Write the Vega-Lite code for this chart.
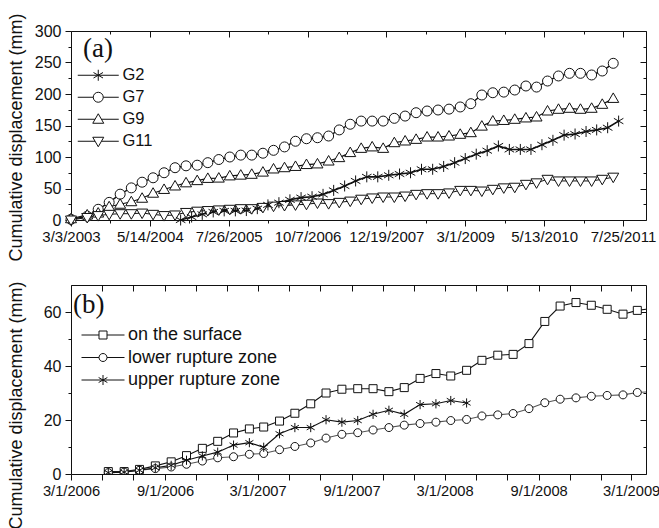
{
  "$schema": "https://vega.github.io/schema/vega-lite/v6.json",
  "padding": {"left": 6, "top": 12, "right": 0, "bottom": 0},
  "config": {
    "font": "Liberation Sans",
    "view": {"stroke": "#111", "strokeWidth": 1},
    "axis": {"grid": false, "domain": false, "tickColor": "#111", "tickWidth": 1, "labelColor": "#111", "labelFont": "Liberation Sans", "titleFont": "Liberation Sans", "titleColor": "#111", "titleFontWeight": "normal", "labelFlush": false, "labelOverlap": false},
    "legend": {"titleFont": "Liberation Serif", "titleFontSize": 27, "titleFontWeight": "normal", "titleColor": "#111", "labelFont": "Liberation Sans", "labelColor": "#111", "symbolSize": 100, "symbolStrokeWidth": 1, "symbolStrokeColor": "#111", "symbolFillColor": "white", "symbolOpacity": 1, "padding": 0}
  },
  "spacing": 65,
  "bounds": "flush",
  "vconcat": [
    {
      "width": 575,
      "height": 189,
      "data": {"name": "a"},
      "resolve": {"axis": {"x": "independent", "y": "independent"}, "scale": {"shape": "independent"}},
      "layer": [
        {
          "mark": {"type": "line", "stroke": "#111"},
          "encoding": {
            "x": {"field": "d", "type": "temporal",
              "scale": {"type": "utc", "domain": [{"year": 2003, "month": 3, "date": 3, "utc": true}, {"year": 2011, "month": 11, "date": 30, "utc": true}]},
              "axis": {"orient": "bottom", "title": null, "format": "%-m/%-d/%Y", "labelFontSize": 15, "tickSize": 6, "labelPadding": 3,
                "values": [{"year": 2003, "month": 3, "date": 3, "utc": true}, {"year": 2004, "month": 5, "date": 14, "utc": true}, {"year": 2005, "month": 7, "date": 26, "utc": true}, {"year": 2006, "month": 10, "date": 7, "utc": true}, {"year": 2007, "month": 12, "date": 19, "utc": true}, {"year": 2009, "month": 3, "date": 1, "utc": true}, {"year": 2010, "month": 5, "date": 13, "utc": true}, {"year": 2011, "month": 7, "date": 25, "utc": true}]}},
            "y": {"field": "v", "type": "quantitative", "scale": {"domain": [0, 300], "nice": false},
              "axis": {"orient": "left", "values": [0, 50, 100, 150, 200, 250, 300], "labelFontSize": 16, "tickSize": 6, "labelPadding": 4,
                "title": "Cumulative displacement (mm)", "titleFontSize": 18, "titleX": -55, "titleY": 106, "titleBaseline": "middle", "titleAlign": "center", "titleAngle": -90}},
            "detail": {"field": "s", "type": "nominal"},
            "strokeWidth": {"field": "s", "type": "nominal", "legend": null, "scale": {"domain": ["G2", "G7", "G9", "G11"], "range": [1.6, 1, 1, 1.1]}}
          }
        },
        {
          "mark": {"type": "point", "filled": true, "fill": "white", "stroke": "#111", "strokeWidth": 1, "size": 100, "opacity": 1},
          "encoding": {
            "x": {"field": "d", "type": "temporal",
              "axis": {"orient": "bottom", "title": null, "labels": false, "tickSize": 3,
                "values": [{"year": 2003, "month": 10, "date": 8, "utc": true}, {"year": 2004, "month": 12, "date": 19, "utc": true}, {"year": 2006, "month": 3, "date": 2, "utc": true}, {"year": 2007, "month": 5, "date": 14, "utc": true}, {"year": 2008, "month": 7, "date": 25, "utc": true}, {"year": 2009, "month": 10, "date": 6, "utc": true}, {"year": 2010, "month": 12, "date": 18, "utc": true}]}},
            "y": {"field": "v", "type": "quantitative",
              "axis": {"orient": "left", "title": null, "labels": false, "tickSize": 3, "values": [25, 75, 125, 175, 225, 275]}},
            "shape": {"field": "s", "type": "nominal", "legend": null,
              "scale": {"domain": ["G2", "G7", "G9", "G11"], "range": ["M0,-1.1V1.1M-0.95,-0.55L0.95,0.55M-0.95,0.55L0.95,-0.55", "M1,0A1,1,0,1,1,-1,0A1,1,0,1,1,1,0Z", "M0,-1.1L1.1,0.8L-1.1,0.8Z", "M0,1.1L1.1,-0.8L-1.1,-0.8Z"]}}
          }
        },
        {
          "mark": {"type": "point", "filled": false, "stroke": "#111", "strokeWidth": 1, "opacity": 0},
          "encoding": {
            "x": {"field": "d", "type": "temporal",
              "axis": {"orient": "top", "title": null, "labels": false, "tickSize": 6, "offset": -6,
                "values": [{"year": 2003, "month": 3, "date": 3, "utc": true}, {"year": 2004, "month": 5, "date": 14, "utc": true}, {"year": 2005, "month": 7, "date": 26, "utc": true}, {"year": 2006, "month": 10, "date": 7, "utc": true}, {"year": 2007, "month": 12, "date": 19, "utc": true}, {"year": 2009, "month": 3, "date": 1, "utc": true}, {"year": 2010, "month": 5, "date": 13, "utc": true}, {"year": 2011, "month": 7, "date": 25, "utc": true}]}},
            "y": {"field": "v", "type": "quantitative",
              "axis": {"orient": "right", "title": null, "labels": false, "tickSize": 6, "offset": -6, "values": [0, 50, 100, 150, 200, 250, 300]}},
            "shape": {"field": "s", "type": "nominal",
              "scale": {"domain": ["G2", "G7", "G9", "G11"], "range": ["M-4.1,0H4.1M0,-1.1V1.1M-0.95,-0.55L0.95,0.55M-0.95,0.55L0.95,-0.55", "M-4.1,0H-1M1,0H4.1M1,0A1,1,0,1,1,-1,0A1,1,0,1,1,1,0Z", "M-4.1,0H-0.64M0.64,0H4.1M0,-1.1L1.1,0.8L-1.1,0.8Z", "M-4.1,0H-0.64M0.64,0H4.1M0,1.1L1.1,-0.8L-1.1,-0.8Z"]},
              "legend": {"title": "(a)", "orient": "none", "legendX": 12, "legendY": 5, "titlePadding": 4, "labelFontSize": 16.5, "rowPadding": 5, "symbolOffset": 7, "labelOffset": 16,
                "encode": {"symbols": {"stroke": {"value": "#111"}, "fill": {"value": "white"}, "opacity": {"value": 1}, "strokeWidth": {"value": 1}}}}}
          }
        },
        {
          "mark": {"type": "point", "opacity": 0},
          "encoding": {
            "x": {"field": "d", "type": "temporal",
              "axis": {"orient": "top", "title": null, "labels": false, "tickSize": 3, "offset": -3,
                "values": [{"year": 2003, "month": 10, "date": 8, "utc": true}, {"year": 2004, "month": 12, "date": 19, "utc": true}, {"year": 2006, "month": 3, "date": 2, "utc": true}, {"year": 2007, "month": 5, "date": 14, "utc": true}, {"year": 2008, "month": 7, "date": 25, "utc": true}, {"year": 2009, "month": 10, "date": 6, "utc": true}, {"year": 2010, "month": 12, "date": 18, "utc": true}]}},
            "y": {"field": "v", "type": "quantitative",
              "axis": {"orient": "right", "title": null, "labels": false, "tickSize": 3, "offset": -3, "values": [25, 75, 125, 175, 225, 275]}}
          }
        }
      ]
    },
    {
      "width": 575,
      "height": 189,
      "data": {"name": "b"},
      "resolve": {"axis": {"x": "independent", "y": "independent"}, "scale": {"shape": "independent"}},
      "layer": [
        {
          "mark": {"type": "line", "strokeWidth": 1.1, "clip": true},
          "encoding": {
            "x": {"field": "d", "type": "temporal",
              "scale": {"type": "utc", "domain": [{"year": 2006, "month": 3, "date": 1, "utc": true}, {"year": 2009, "month": 3, "date": 30, "utc": true}]},
              "axis": {"orient": "bottom", "title": null, "format": "%-m/%-d/%Y", "labelFontSize": 14.7, "tickSize": 6, "labelPadding": 3,
                "values": [{"year": 2006, "month": 3, "date": 1, "utc": true}, {"year": 2006, "month": 9, "date": 1, "utc": true}, {"year": 2007, "month": 3, "date": 1, "utc": true}, {"year": 2007, "month": 9, "date": 1, "utc": true}, {"year": 2008, "month": 3, "date": 1, "utc": true}, {"year": 2008, "month": 9, "date": 1, "utc": true}, {"year": 2009, "month": 3, "date": 1, "utc": true}]}},
            "y": {"field": "v", "type": "quantitative", "scale": {"domain": [0, 70], "nice": false},
              "axis": {"orient": "left", "values": [0, 20, 40, 60], "labelFontSize": 16, "tickSize": 6, "labelPadding": 4,
                "title": "Cumulative displacement (mm)", "titleFontSize": 18, "titleX": -55, "titleY": 120, "titleBaseline": "middle", "titleAlign": "center", "titleAngle": -90}},
            "color": {"field": "s", "type": "nominal", "legend": null,
              "scale": {"domain": ["on the surface", "lower rupture zone", "upper rupture zone"], "range": ["#111", "#555", "#111"]}}
          }
        },
        {
          "mark": {"type": "point", "filled": true, "fill": "white", "stroke": "#111", "strokeWidth": 1, "size": 64, "opacity": 1, "clip": true},
          "encoding": {
            "x": {"field": "d", "type": "temporal",
              "axis": {"orient": "bottom", "title": null, "labels": false, "tickSize": 6,
                "values": [{"year": 2006, "month": 5, "date": 1, "utc": true}, {"year": 2006, "month": 7, "date": 1, "utc": true}, {"year": 2006, "month": 11, "date": 1, "utc": true}, {"year": 2007, "month": 1, "date": 1, "utc": true}, {"year": 2007, "month": 5, "date": 1, "utc": true}, {"year": 2007, "month": 7, "date": 1, "utc": true}, {"year": 2007, "month": 11, "date": 1, "utc": true}, {"year": 2008, "month": 1, "date": 1, "utc": true}, {"year": 2008, "month": 5, "date": 1, "utc": true}, {"year": 2008, "month": 7, "date": 1, "utc": true}, {"year": 2008, "month": 11, "date": 1, "utc": true}, {"year": 2009, "month": 1, "date": 1, "utc": true}]}},
            "y": {"field": "v", "type": "quantitative",
              "axis": {"orient": "left", "title": null, "labels": false, "tickSize": 3, "values": [10, 30, 50]}},
            "shape": {"field": "s", "type": "nominal", "legend": null,
              "scale": {"domain": ["on the surface", "lower rupture zone", "upper rupture zone"], "range": ["M-1,-1H1V1H-1Z", "M1,0A1,1,0,1,1,-1,0A1,1,0,1,1,1,0Z", "M0,-1.15V1.15M-1,-0.58L1,0.58M-1,0.58L1,-0.58"]}}
          }
        },
        {
          "mark": {"type": "point", "filled": false, "stroke": "#111", "strokeWidth": 1, "opacity": 0, "clip": true},
          "encoding": {
            "x": {"field": "d", "type": "temporal",
              "axis": {"orient": "top", "title": null, "labels": false, "tickSize": 6, "offset": -6,
                "values": [{"year": 2006, "month": 3, "date": 1, "utc": true}, {"year": 2006, "month": 9, "date": 1, "utc": true}, {"year": 2007, "month": 3, "date": 1, "utc": true}, {"year": 2007, "month": 9, "date": 1, "utc": true}, {"year": 2008, "month": 3, "date": 1, "utc": true}, {"year": 2008, "month": 9, "date": 1, "utc": true}, {"year": 2009, "month": 3, "date": 1, "utc": true}]}},
            "y": {"field": "v", "type": "quantitative",
              "axis": {"orient": "right", "title": null, "labels": false, "tickSize": 6, "offset": -6, "values": [0, 20, 40, 60]}},
            "shape": {"field": "s", "type": "nominal",
              "scale": {"domain": ["on the surface", "lower rupture zone", "upper rupture zone"], "range": ["M-4.3,0H-0.8M0.8,0H4.3M-0.8,-0.8H0.8V0.8H-0.8Z", "M-4.3,0H-0.8M0.8,0H4.3M0.8,0A0.8,0.8,0,1,1,-0.8,0A0.8,0.8,0,1,1,0.8,0Z", "M-4.3,0H4.3M0,-1V1M-0.87,-0.5L0.87,0.5M-0.87,0.5L0.87,-0.5"]},
              "legend": {"title": "(b)", "orient": "none", "legendX": 2, "legendY": 7, "titlePadding": 7, "labelFontSize": 18, "rowPadding": 4.5, "symbolOffset": 21, "labelOffset": 16,
                "encode": {"symbols": {"stroke": {"condition": {"test": "datum.value === 'lower rupture zone'", "value": "#555"}, "value": "#111"}, "fill": {"value": "white"}, "opacity": {"value": 1}, "strokeWidth": {"value": 1}}}}}
          }
        },
        {
          "mark": {"type": "point", "opacity": 0, "clip": true},
          "encoding": {
            "x": {"field": "d", "type": "temporal",
              "axis": {"orient": "top", "title": null, "labels": false, "tickSize": 6, "offset": -6,
                "values": [{"year": 2006, "month": 5, "date": 1, "utc": true}, {"year": 2006, "month": 7, "date": 1, "utc": true}, {"year": 2006, "month": 11, "date": 1, "utc": true}, {"year": 2007, "month": 1, "date": 1, "utc": true}, {"year": 2007, "month": 5, "date": 1, "utc": true}, {"year": 2007, "month": 7, "date": 1, "utc": true}, {"year": 2007, "month": 11, "date": 1, "utc": true}, {"year": 2008, "month": 1, "date": 1, "utc": true}, {"year": 2008, "month": 5, "date": 1, "utc": true}, {"year": 2008, "month": 7, "date": 1, "utc": true}, {"year": 2008, "month": 11, "date": 1, "utc": true}, {"year": 2009, "month": 1, "date": 1, "utc": true}]}},
            "y": {"field": "v", "type": "quantitative",
              "axis": {"orient": "right", "title": null, "labels": false, "tickSize": 3, "offset": -3, "values": [10, 30, 50]}}
          }
        }
      ]
    }
  ],
  "datasets": {
    "a": [
      {"s": "G7", "d": "2003-03-03", "v": 1}, {"s": "G7", "d": "2003-06-01", "v": 6}, {"s": "G7", "d": "2003-08-01", "v": 17}, {"s": "G7", "d": "2003-10-01", "v": 28}, {"s": "G7", "d": "2003-12-01", "v": 41}, {"s": "G7", "d": "2004-02-01", "v": 51}, {"s": "G7", "d": "2004-04-01", "v": 60}, {"s": "G7", "d": "2004-06-01", "v": 67}, {"s": "G7", "d": "2004-08-01", "v": 75}, {"s": "G7", "d": "2004-10-01", "v": 83},
      {"s": "G7", "d": "2004-12-01", "v": 86}, {"s": "G7", "d": "2005-02-01", "v": 87}, {"s": "G7", "d": "2005-04-01", "v": 91}, {"s": "G7", "d": "2005-06-01", "v": 96}, {"s": "G7", "d": "2005-08-01", "v": 100}, {"s": "G7", "d": "2005-10-01", "v": 103}, {"s": "G7", "d": "2005-12-01", "v": 103}, {"s": "G7", "d": "2006-02-01", "v": 106}, {"s": "G7", "d": "2006-04-01", "v": 110.6}, {"s": "G7", "d": "2006-06-01", "v": 116},
      {"s": "G7", "d": "2006-08-01", "v": 125}, {"s": "G7", "d": "2006-10-01", "v": 129}, {"s": "G7", "d": "2006-12-01", "v": 130.6}, {"s": "G7", "d": "2007-02-01", "v": 133.3}, {"s": "G7", "d": "2007-04-01", "v": 143}, {"s": "G7", "d": "2007-06-01", "v": 152}, {"s": "G7", "d": "2007-08-01", "v": 157}, {"s": "G7", "d": "2007-10-01", "v": 157}, {"s": "G7", "d": "2007-12-01", "v": 157}, {"s": "G7", "d": "2008-02-01", "v": 161.4},
      {"s": "G7", "d": "2008-04-01", "v": 165}, {"s": "G7", "d": "2008-06-01", "v": 170.3}, {"s": "G7", "d": "2008-08-01", "v": 173}, {"s": "G7", "d": "2008-10-01", "v": 174.6}, {"s": "G7", "d": "2008-12-01", "v": 176}, {"s": "G7", "d": "2009-02-01", "v": 179.4}, {"s": "G7", "d": "2009-04-01", "v": 184.6}, {"s": "G7", "d": "2009-06-01", "v": 198.4}, {"s": "G7", "d": "2009-08-01", "v": 202}, {"s": "G7", "d": "2009-10-01", "v": 203},
      {"s": "G7", "d": "2009-12-01", "v": 206.3}, {"s": "G7", "d": "2010-02-01", "v": 212.7}, {"s": "G7", "d": "2010-04-01", "v": 211}, {"s": "G7", "d": "2010-06-01", "v": 220.6}, {"s": "G7", "d": "2010-08-01", "v": 228.6}, {"s": "G7", "d": "2010-10-01", "v": 232.8}, {"s": "G7", "d": "2010-12-01", "v": 232.8}, {"s": "G7", "d": "2011-02-01", "v": 230.2}, {"s": "G7", "d": "2011-04-01", "v": 236.5}, {"s": "G7", "d": "2011-06-01", "v": 248.7},
      {"s": "G9", "d": "2003-03-03", "v": 2}, {"s": "G9", "d": "2003-06-01", "v": 8}, {"s": "G9", "d": "2003-08-01", "v": 11}, {"s": "G9", "d": "2003-10-01", "v": 21}, {"s": "G9", "d": "2003-12-01", "v": 25}, {"s": "G9", "d": "2004-02-01", "v": 29}, {"s": "G9", "d": "2004-04-01", "v": 34.5}, {"s": "G9", "d": "2004-06-01", "v": 42.5}, {"s": "G9", "d": "2004-08-01", "v": 48.5}, {"s": "G9", "d": "2004-10-01", "v": 54},
      {"s": "G9", "d": "2004-12-01", "v": 59}, {"s": "G9", "d": "2005-02-01", "v": 62.5}, {"s": "G9", "d": "2005-04-01", "v": 66}, {"s": "G9", "d": "2005-06-01", "v": 66.5}, {"s": "G9", "d": "2005-08-01", "v": 70}, {"s": "G9", "d": "2005-10-01", "v": 71.2}, {"s": "G9", "d": "2005-12-01", "v": 72.5}, {"s": "G9", "d": "2006-02-01", "v": 76}, {"s": "G9", "d": "2006-04-01", "v": 81}, {"s": "G9", "d": "2006-06-01", "v": 83},
      {"s": "G9", "d": "2006-08-01", "v": 85}, {"s": "G9", "d": "2006-10-01", "v": 88}, {"s": "G9", "d": "2006-12-01", "v": 89}, {"s": "G9", "d": "2007-02-01", "v": 93.6}, {"s": "G9", "d": "2007-04-01", "v": 99}, {"s": "G9", "d": "2007-06-01", "v": 107}, {"s": "G9", "d": "2007-08-01", "v": 113.7}, {"s": "G9", "d": "2007-10-01", "v": 116}, {"s": "G9", "d": "2007-12-01", "v": 113.7}, {"s": "G9", "d": "2008-02-01", "v": 122.7},
      {"s": "G9", "d": "2008-04-01", "v": 125.4}, {"s": "G9", "d": "2008-06-01", "v": 128}, {"s": "G9", "d": "2008-08-01", "v": 131.7}, {"s": "G9", "d": "2008-10-01", "v": 131.7}, {"s": "G9", "d": "2008-12-01", "v": 133.3}, {"s": "G9", "d": "2009-02-01", "v": 136}, {"s": "G9", "d": "2009-04-01", "v": 138.6}, {"s": "G9", "d": "2009-06-01", "v": 149}, {"s": "G9", "d": "2009-08-01", "v": 157}, {"s": "G9", "d": "2009-10-01", "v": 158},
      {"s": "G9", "d": "2009-12-01", "v": 159.8}, {"s": "G9", "d": "2010-02-01", "v": 162}, {"s": "G9", "d": "2010-04-01", "v": 163.5}, {"s": "G9", "d": "2010-06-01", "v": 173}, {"s": "G9", "d": "2010-08-01", "v": 175.7}, {"s": "G9", "d": "2010-10-01", "v": 177.3}, {"s": "G9", "d": "2010-12-01", "v": 175.7}, {"s": "G9", "d": "2011-02-01", "v": 177.3}, {"s": "G9", "d": "2011-04-01", "v": 183.6}, {"s": "G9", "d": "2011-06-01", "v": 193},
      {"s": "G11", "d": "2003-03-03", "v": 0}, {"s": "G11", "d": "2003-06-01", "v": 4}, {"s": "G11", "d": "2003-08-01", "v": 7}, {"s": "G11", "d": "2003-10-01", "v": 9}, {"s": "G11", "d": "2003-12-01", "v": 10}, {"s": "G11", "d": "2004-02-01", "v": 10}, {"s": "G11", "d": "2004-04-01", "v": 11}, {"s": "G11", "d": "2004-06-01", "v": 9}, {"s": "G11", "d": "2004-08-01", "v": 7}, {"s": "G11", "d": "2004-10-01", "v": 8},
      {"s": "G11", "d": "2004-12-01", "v": 12}, {"s": "G11", "d": "2005-02-01", "v": 14}, {"s": "G11", "d": "2005-04-01", "v": 15}, {"s": "G11", "d": "2005-06-01", "v": 16}, {"s": "G11", "d": "2005-08-01", "v": 17}, {"s": "G11", "d": "2005-10-01", "v": 18}, {"s": "G11", "d": "2005-12-01", "v": 18}, {"s": "G11", "d": "2006-02-01", "v": 20}, {"s": "G11", "d": "2006-04-01", "v": 22}, {"s": "G11", "d": "2006-06-01", "v": 23},
      {"s": "G11", "d": "2006-08-01", "v": 24}, {"s": "G11", "d": "2006-10-01", "v": 25}, {"s": "G11", "d": "2006-12-01", "v": 27}, {"s": "G11", "d": "2007-02-01", "v": 26}, {"s": "G11", "d": "2007-04-01", "v": 28}, {"s": "G11", "d": "2007-06-01", "v": 30}, {"s": "G11", "d": "2007-08-01", "v": 33}, {"s": "G11", "d": "2007-10-01", "v": 35}, {"s": "G11", "d": "2007-12-01", "v": 36.5}, {"s": "G11", "d": "2008-02-01", "v": 36.5},
      {"s": "G11", "d": "2008-04-01", "v": 38}, {"s": "G11", "d": "2008-06-01", "v": 40.7}, {"s": "G11", "d": "2008-08-01", "v": 41.8}, {"s": "G11", "d": "2008-10-01", "v": 41.8}, {"s": "G11", "d": "2008-12-01", "v": 43}, {"s": "G11", "d": "2009-02-01", "v": 47}, {"s": "G11", "d": "2009-04-01", "v": 47}, {"s": "G11", "d": "2009-06-01", "v": 46}, {"s": "G11", "d": "2009-08-01", "v": 48.7}, {"s": "G11", "d": "2009-10-01", "v": 51},
      {"s": "G11", "d": "2009-12-01", "v": 52}, {"s": "G11", "d": "2010-02-01", "v": 56.6}, {"s": "G11", "d": "2010-04-01", "v": 59}, {"s": "G11", "d": "2010-06-01", "v": 64.6}, {"s": "G11", "d": "2010-08-01", "v": 62}, {"s": "G11", "d": "2010-10-01", "v": 62}, {"s": "G11", "d": "2010-12-01", "v": 62}, {"s": "G11", "d": "2011-02-01", "v": 62}, {"s": "G11", "d": "2011-04-01", "v": 64.6}, {"s": "G11", "d": "2011-06-01", "v": 68},
      {"s": "G2", "d": "2004-11-01", "v": 0}, {"s": "G2", "d": "2005-01-01", "v": 4.7}, {"s": "G2", "d": "2005-03-01", "v": 9}, {"s": "G2", "d": "2005-05-01", "v": 12.8}, {"s": "G2", "d": "2005-07-01", "v": 14.5}, {"s": "G2", "d": "2005-09-01", "v": 14.5}, {"s": "G2", "d": "2005-11-01", "v": 15}, {"s": "G2", "d": "2006-01-01", "v": 18}, {"s": "G2", "d": "2006-03-01", "v": 24}, {"s": "G2", "d": "2006-05-01", "v": 27.5},
      {"s": "G2", "d": "2006-07-01", "v": 32}, {"s": "G2", "d": "2006-09-01", "v": 35.5}, {"s": "G2", "d": "2006-11-01", "v": 37}, {"s": "G2", "d": "2007-01-01", "v": 40.7}, {"s": "G2", "d": "2007-03-01", "v": 47}, {"s": "G2", "d": "2007-05-01", "v": 54}, {"s": "G2", "d": "2007-07-01", "v": 62}, {"s": "G2", "d": "2007-09-01", "v": 68.5}, {"s": "G2", "d": "2007-11-01", "v": 68.5}, {"s": "G2", "d": "2008-01-01", "v": 71},
      {"s": "G2", "d": "2008-03-01", "v": 73}, {"s": "G2", "d": "2008-05-01", "v": 75}, {"s": "G2", "d": "2008-07-01", "v": 80.5}, {"s": "G2", "d": "2008-09-01", "v": 80.5}, {"s": "G2", "d": "2008-11-01", "v": 85}, {"s": "G2", "d": "2009-01-01", "v": 91}, {"s": "G2", "d": "2009-03-01", "v": 97.5}, {"s": "G2", "d": "2009-05-01", "v": 104.5}, {"s": "G2", "d": "2009-07-01", "v": 110}, {"s": "G2", "d": "2009-09-01", "v": 117.5},
      {"s": "G2", "d": "2009-11-01", "v": 112}, {"s": "G2", "d": "2010-01-01", "v": 112}, {"s": "G2", "d": "2010-03-01", "v": 112}, {"s": "G2", "d": "2010-05-01", "v": 119.5}, {"s": "G2", "d": "2010-07-01", "v": 126.5}, {"s": "G2", "d": "2010-09-01", "v": 134.7}, {"s": "G2", "d": "2010-11-01", "v": 136.5}, {"s": "G2", "d": "2011-01-01", "v": 140.5}, {"s": "G2", "d": "2011-03-01", "v": 143}, {"s": "G2", "d": "2011-05-01", "v": 146.5},
      {"s": "G2", "d": "2011-07-01", "v": 157}
    ],
    "b": [
      {"s": "on the surface", "d": "2006-05-13", "v": 0.9}, {"s": "on the surface", "d": "2006-06-13", "v": 0.9}, {"s": "on the surface", "d": "2006-07-13", "v": 1.7}, {"s": "on the surface", "d": "2006-08-13", "v": 3}, {"s": "on the surface", "d": "2006-09-13", "v": 4.5}, {"s": "on the surface", "d": "2006-10-13", "v": 6.8}, {"s": "on the surface", "d": "2006-11-13", "v": 9.5}, {"s": "on the surface", "d": "2006-12-13", "v": 12.1}, {"s": "on the surface", "d": "2007-01-13", "v": 15.2},
      {"s": "on the surface", "d": "2007-02-13", "v": 16.7}, {"s": "on the surface", "d": "2007-03-13", "v": 17.4}, {"s": "on the surface", "d": "2007-04-13", "v": 19.6}, {"s": "on the surface", "d": "2007-05-13", "v": 22.5}, {"s": "on the surface", "d": "2007-06-13", "v": 26}, {"s": "on the surface", "d": "2007-07-13", "v": 30}, {"s": "on the surface", "d": "2007-08-13", "v": 31.4}, {"s": "on the surface", "d": "2007-09-13", "v": 31.6}, {"s": "on the surface", "d": "2007-10-13", "v": 31.6},
      {"s": "on the surface", "d": "2007-11-13", "v": 30.5}, {"s": "on the surface", "d": "2007-12-13", "v": 32}, {"s": "on the surface", "d": "2008-01-13", "v": 35.4}, {"s": "on the surface", "d": "2008-02-13", "v": 37.2}, {"s": "on the surface", "d": "2008-03-13", "v": 36.3}, {"s": "on the surface", "d": "2008-04-13", "v": 38.4}, {"s": "on the surface", "d": "2008-05-13", "v": 42.1}, {"s": "on the surface", "d": "2008-06-13", "v": 44}, {"s": "on the surface", "d": "2008-07-13", "v": 44.3},
      {"s": "on the surface", "d": "2008-08-13", "v": 48.3}, {"s": "on the surface", "d": "2008-09-13", "v": 56.5}, {"s": "on the surface", "d": "2008-10-13", "v": 62.2}, {"s": "on the surface", "d": "2008-11-13", "v": 63.5}, {"s": "on the surface", "d": "2008-12-13", "v": 62.5}, {"s": "on the surface", "d": "2009-01-13", "v": 61}, {"s": "on the surface", "d": "2009-02-13", "v": 59.2}, {"s": "on the surface", "d": "2009-03-13", "v": 60.6}, {"s": "on the surface", "d": "2009-04-13", "v": 61.4},
      {"s": "lower rupture zone", "d": "2006-05-13", "v": 0.5}, {"s": "lower rupture zone", "d": "2006-06-13", "v": 0.7}, {"s": "lower rupture zone", "d": "2006-07-13", "v": 1.4}, {"s": "lower rupture zone", "d": "2006-08-13", "v": 2}, {"s": "lower rupture zone", "d": "2006-09-13", "v": 2.6}, {"s": "lower rupture zone", "d": "2006-10-13", "v": 3.6}, {"s": "lower rupture zone", "d": "2006-11-13", "v": 4.8}, {"s": "lower rupture zone", "d": "2006-12-13", "v": 6}, {"s": "lower rupture zone", "d": "2007-01-13", "v": 6.4},
      {"s": "lower rupture zone", "d": "2007-02-13", "v": 7.3}, {"s": "lower rupture zone", "d": "2007-03-13", "v": 7.6}, {"s": "lower rupture zone", "d": "2007-04-13", "v": 9}, {"s": "lower rupture zone", "d": "2007-05-13", "v": 10.2}, {"s": "lower rupture zone", "d": "2007-06-13", "v": 11.5}, {"s": "lower rupture zone", "d": "2007-07-13", "v": 13.3}, {"s": "lower rupture zone", "d": "2007-08-13", "v": 14.7}, {"s": "lower rupture zone", "d": "2007-09-13", "v": 15.3}, {"s": "lower rupture zone", "d": "2007-10-13", "v": 16.3},
      {"s": "lower rupture zone", "d": "2007-11-13", "v": 17.2}, {"s": "lower rupture zone", "d": "2007-12-13", "v": 18.1}, {"s": "lower rupture zone", "d": "2008-01-13", "v": 18.7}, {"s": "lower rupture zone", "d": "2008-02-13", "v": 19.2}, {"s": "lower rupture zone", "d": "2008-03-13", "v": 19.8}, {"s": "lower rupture zone", "d": "2008-04-13", "v": 20.2}, {"s": "lower rupture zone", "d": "2008-05-13", "v": 21.5}, {"s": "lower rupture zone", "d": "2008-06-13", "v": 21.9}, {"s": "lower rupture zone", "d": "2008-07-13", "v": 22.4},
      {"s": "lower rupture zone", "d": "2008-08-13", "v": 24.2}, {"s": "lower rupture zone", "d": "2008-09-13", "v": 26.4}, {"s": "lower rupture zone", "d": "2008-10-13", "v": 27.7}, {"s": "lower rupture zone", "d": "2008-11-13", "v": 28.2}, {"s": "lower rupture zone", "d": "2008-12-13", "v": 28.8}, {"s": "lower rupture zone", "d": "2009-01-13", "v": 29.1}, {"s": "lower rupture zone", "d": "2009-02-13", "v": 29.3}, {"s": "lower rupture zone", "d": "2009-03-13", "v": 30.2}, {"s": "lower rupture zone", "d": "2009-04-13", "v": 30.5},
      {"s": "upper rupture zone", "d": "2006-05-13", "v": 0.5}, {"s": "upper rupture zone", "d": "2006-06-13", "v": 0.7}, {"s": "upper rupture zone", "d": "2006-07-13", "v": 1.4}, {"s": "upper rupture zone", "d": "2006-08-13", "v": 2.3}, {"s": "upper rupture zone", "d": "2006-09-13", "v": 3.2}, {"s": "upper rupture zone", "d": "2006-10-13", "v": 5.1}, {"s": "upper rupture zone", "d": "2006-11-13", "v": 6.7}, {"s": "upper rupture zone", "d": "2006-12-13", "v": 8.1},
      {"s": "upper rupture zone", "d": "2007-01-13", "v": 10.7}, {"s": "upper rupture zone", "d": "2007-02-13", "v": 11.6}, {"s": "upper rupture zone", "d": "2007-03-13", "v": 9.9}, {"s": "upper rupture zone", "d": "2007-04-13", "v": 14.9}, {"s": "upper rupture zone", "d": "2007-05-13", "v": 17.2}, {"s": "upper rupture zone", "d": "2007-06-13", "v": 17.2}, {"s": "upper rupture zone", "d": "2007-07-13", "v": 20.1}, {"s": "upper rupture zone", "d": "2007-08-13", "v": 19.2},
      {"s": "upper rupture zone", "d": "2007-09-13", "v": 19.8}, {"s": "upper rupture zone", "d": "2007-10-13", "v": 22.1}, {"s": "upper rupture zone", "d": "2007-11-13", "v": 23.6}, {"s": "upper rupture zone", "d": "2007-12-13", "v": 22.1}, {"s": "upper rupture zone", "d": "2008-01-13", "v": 25.7}, {"s": "upper rupture zone", "d": "2008-02-13", "v": 26}, {"s": "upper rupture zone", "d": "2008-03-13", "v": 27.2}, {"s": "upper rupture zone", "d": "2008-04-13", "v": 26.3}
    ]
  }
}
